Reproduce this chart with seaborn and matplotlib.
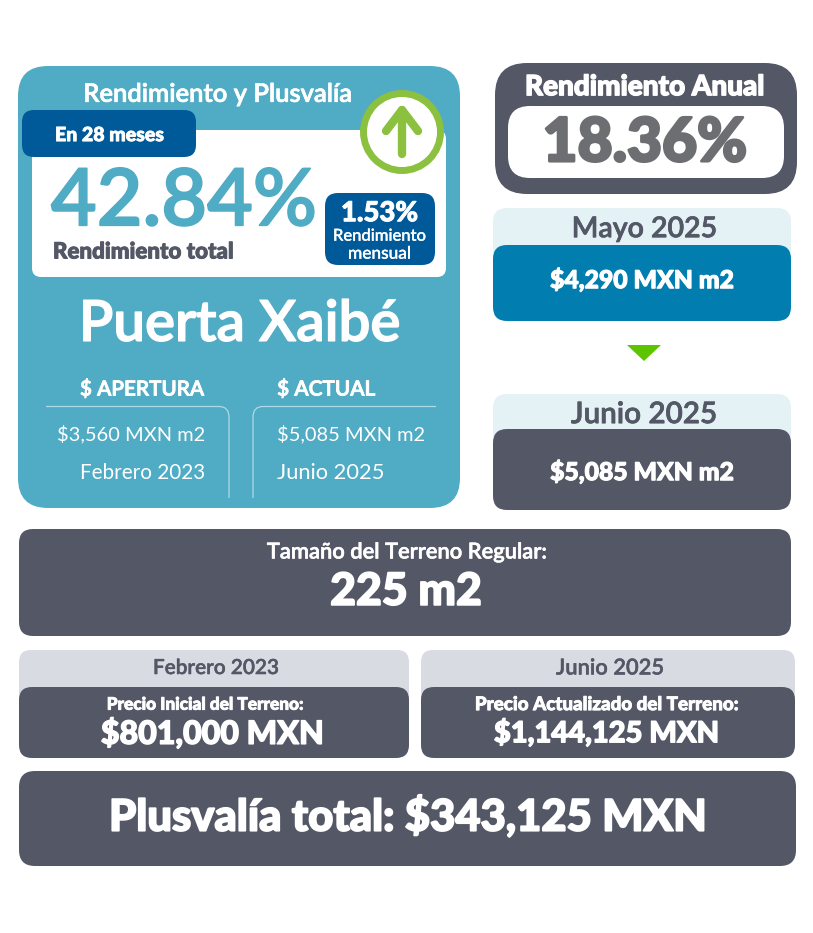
import matplotlib
matplotlib.use("Agg")
import matplotlib.pyplot as plt
import matplotlib.patheffects as pe
from matplotlib.patches import FancyBboxPatch, Circle, Polygon, PathPatch
from matplotlib.path import Path
import seaborn as sns

sns.set_theme(style="white")
plt.rcParams['font.family'] = ['Lato', 'DejaVu Sans']

# ---- content ----
project = "Puerta Xaibé"
panel_title = "Rendimiento y Plusvalía"
period = "En 28 meses"
total_return = "42.84%"
total_label = "Rendimiento total"
monthly_return = "1.53%"
monthly_label = ["Rendimiento", "mensual"]
price_heads = ["$ APERTURA", "$ ACTUAL"]
open_vals = ["$3,560 MXN m2", "Febrero 2023"]
now_vals = ["$5,085 MXN m2", "Junio 2025"]
annual_label = "Rendimiento Anual"
annual_return = "18.36%"
months = ["Mayo 2025", "Junio 2025"]
month_prices = ["$4,290 MXN m2", "$5,085 MXN m2"]
lot_label = "Tamaño del Terreno Regular:"
lot_size = "225 m2"
lot_dates = ["Febrero 2023", "Junio 2025"]
lot_heads = ["Precio Inicial del Terreno:", "Precio Actualizado del Terreno:"]
lot_prices = ["$801,000 MXN", "$1,144,125 MXN"]
gain = "Plusvalía total: $343,125 MXN"

TEAL, NAVY, SLATE, OCEAN = "#50ABC4", "#005A9A", "#535766", "#027DAF"
PALE, MIST, GREEN, LIME, GREY = "#E4F1F5", "#D9DBE2", "#8CC03F", "#5DC400", "#6D6E72"

fig = plt.figure(figsize=(8.13, 9.33), dpi=100)
ax = fig.add_axes([0, 0, 1, 1])
ax.set_xlim(0, 813)
ax.set_ylim(933, 0)
ax.axis("off")
renderer = fig.canvas.get_renderer()


def box(x0, y0, x1, y1, r, color, z=1):
    ax.add_patch(FancyBboxPatch((x0 + r, y0 + r), x1 - x0 - 2 * r, y1 - y0 - 2 * r,
                                boxstyle=f"round,pad={r},rounding_size={r}",
                                fc=color, ec="none", zorder=z))


def label(s, x0, x1, yc, color="white", weight="bold", ha="center", stroke=0.0):
    """Text fitted to the x0..x1 span, centred on yc; stroke thickens the face."""
    x = {"center": (x0 + x1) / 2, "left": x0, "right": x1}[ha]
    t = ax.text(x, yc, s, color=color, fontweight=weight, ha=ha, va="center_baseline",
                fontsize=20, zorder=10)
    w = t.get_window_extent(renderer).width
    size = 20 * (x1 - x0) / w
    t.set_fontsize(size)
    t.set_y(yc - 0.065 * size)
    if stroke:
        t.set_path_effects([pe.withStroke(linewidth=stroke, foreground=color)])
    return t


# left panel
box(18, 66, 460, 508, 30, TEAL)
box(32, 130, 446, 277, 9, "white", 2)
box(22, 110, 196, 157, 12, NAVY, 3)
box(325, 193, 435, 265, 13, NAVY, 3)
ax.add_patch(Circle((402, 132), 38.5, fc="white", ec=GREEN, lw=5, zorder=4))
ax.plot([402, 402], [110, 154], color=GREEN, lw=6, solid_capstyle="round", zorder=5)
ax.plot([386, 402, 418], [131, 110, 131], color=GREEN, lw=6,
        solid_capstyle="round", solid_joinstyle="round", zorder=5)

label(panel_title, 83, 352, 93, weight="semibold", stroke=0.5)
label(period, 55, 164, 134, weight="black", stroke=0.6)
label(total_return, 51, 317, 200, color=TEAL, weight="semibold", stroke=1.2)
label(total_label, 53, 234, 251, color=SLATE, weight="black", stroke=0.7)
label(monthly_return, 341, 418, 212, weight="black", stroke=0.7)
label(monthly_label[0], 333, 426, 235, weight="medium", stroke=0.2)
label(monthly_label[1], 348, 411, 253, weight="medium", stroke=0.2)
label(project, 79, 401, 323, weight="semibold", stroke=1.0)
label(price_heads[0], 80, 204, 388, weight="semibold", stroke=0.6)
label(price_heads[1], 277, 375, 388, weight="semibold", stroke=0.6)
label(open_vals[0], 57, 205, 434, weight="normal", ha="right")
label(open_vals[1], 80, 205, 472, weight="normal", ha="right")
label(now_vals[0], 277, 425, 434, weight="normal", ha="left")
label(now_vals[1], 277, 385, 472, weight="normal", ha="left")

# rounded rules framing the two price columns
for xs in ([46, 219, 229, 229, 229], [436, 263, 253, 253, 253]):
    ax.add_patch(PathPatch(
        Path(list(zip(xs, [406.5, 406.5, 406.5, 417, 498])),
             [Path.MOVETO, Path.LINETO, Path.CURVE3, Path.CURVE3, Path.LINETO]),
        fc="none", ec="white", alpha=0.55, lw=0.9, zorder=3))

# annual return
box(495, 63, 797, 194, 32, SLATE)
box(508, 106, 784, 178, 22, "white", 2)
label(annual_label, 525, 765, 86, weight="black", stroke=1.0)
label(annual_return, 543, 747, 141, color=GREY, weight="black", stroke=2.0)

# month cards
box(493, 208, 791, 275, 14, PALE)
box(493, 245, 791, 321, 14, OCEAN, 2)
label(months[0], 572, 717, 228, color=SLATE, weight="semibold", stroke=0.5)
label(month_prices[0], 550, 734, 279, weight="black", stroke=0.8)
ax.add_patch(Polygon([(627, 345), (661, 345), (644, 361)], fc=LIME, ec="none"))
box(493, 394, 791, 460, 14, PALE)
box(493, 429, 791, 510, 14, SLATE, 2)
label(months[1], 571, 717, 413, color=SLATE, weight="semibold", stroke=0.5)
label(month_prices[1], 550, 734, 471, weight="black", stroke=0.8)

# lot size
box(19, 529, 791, 636, 14, SLATE)
label(lot_label, 267, 547, 551, weight="semibold", stroke=0.4)
label(lot_size, 330, 482, 590, weight="black", stroke=1.2)

# prices
box(19, 650, 409, 710, 12, MIST)
box(19, 687, 409, 758, 13, SLATE, 2)
box(421, 650, 795, 710, 12, MIST)
box(421, 687, 795, 758, 13, SLATE, 2)
label(lot_dates[0], 153, 279, 667, color=SLATE, weight="semibold", stroke=0.3)
label(lot_dates[1], 556, 664, 667, color=SLATE, weight="semibold", stroke=0.3)
label(lot_heads[0], 107, 304, 704, weight="black", stroke=0.6)
label(lot_heads[1], 475, 739, 704, weight="black", stroke=0.6)
label(lot_prices[0], 101, 324, 732, weight="black", stroke=1.0)
label(lot_prices[1], 494, 719, 732, weight="black", stroke=1.0)

# total gain
box(19, 771, 796, 866, 16, SLATE)
label(gain, 108, 707, 815, weight="black", stroke=1.3)

fig.savefig("out.png", dpi=100, facecolor="white")
